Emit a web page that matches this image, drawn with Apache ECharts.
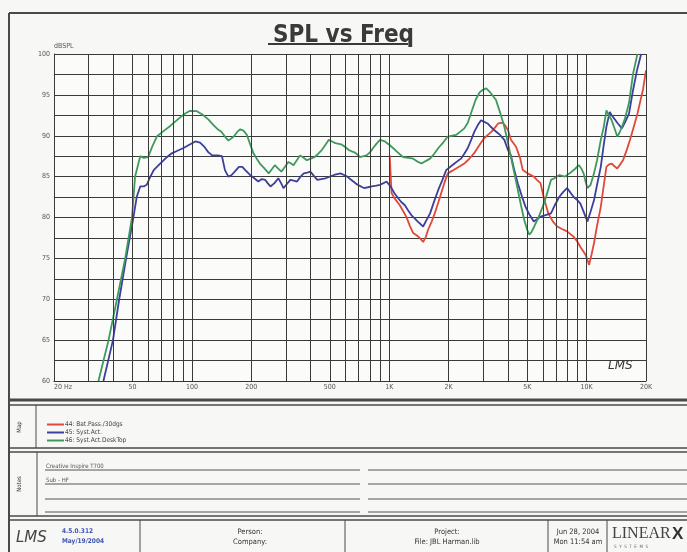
<!DOCTYPE html>
<html><head><meta charset="utf-8">
<script src="https://cdn.jsdelivr.net/npm/echarts@6/dist/echarts.min.js"></script>
<style>html,body{margin:0;padding:0;background:#f7f7f5;}#c{width:687px;height:552px;}</style>
</head><body><div id="c"></div>
<script>
// ---------- data ----------
const seriesNames = ['44: Bat.Pass./30dgs', '45: Syst.Act.', '46: Syst.Act.DeskTop'];
const seriesColors = ['#e0483a', '#3d3f9c', '#3e9a5c'];

const redFreq = [1005,1027,1060,1131,1220,1270,1322,1380,1427,1485,1530,1573,1640,1700,1770,1834,1900,1980,2080,2180,2290,2400,2500,2590,2700,2800,2910,3025,3160,3300,3430,3565,3770,3880,3995,4135,4390,4600,4750,4830,5100,5400,5600,5840,6100,6400,6750,7100,7500,7960,8250,8600,9000,9300,9600,9900,10100,10300,10600,10900,11300,11800,12200,12600,13000,13400,13800,14300,14800,15300,16000,16600,17300,18100,18700,19300,20000];
const redDb   = [87.6,83.0,82.4,81.5,80.1,79.0,78.1,77.8,77.5,77.0,77.6,78.5,79.5,80.5,81.8,83.0,84.2,85.4,85.7,86.0,86.3,86.6,87.0,87.4,87.9,88.5,89.1,89.7,90.1,90.5,91.0,91.5,91.6,91.2,90.7,89.5,88.65,87.3,85.8,85.6,85.3,85.0,84.6,84.2,82.2,80.5,79.5,78.9,78.6,78.3,78.0,77.65,77.0,76.4,75.9,75.4,74.8,74.2,75.5,76.85,79.0,81.3,83.8,86.2,86.5,86.6,86.3,86.0,86.5,87.0,88.3,89.5,91.0,92.7,94.2,95.6,98.0];

const blueFreq = [35.6,39.8,42.8,46.4,50.5,52.5,54.7,57,59,61,64,69,74,79,85,90.6,97,104,110,116,121,126.5,135,142,147,153,159,166,173,180,188,197,207,217,226,235,242,250,262,274,283,291,303,315,328,341,355,369,384,399,415,432,452,475,500,525,545,566,590,612,650,690,718,745,780,816,860,898,935,968,1000,1027,1060,1110,1150,1200,1245,1293,1345,1395,1440,1485,1545,1610,1690,1773,1860,1943,2040,2140,2220,2310,2400,2500,2600,2700,2810,2920,3030,3150,3270,3400,3520,3640,3830,3995,4135,4300,4480,4700,4905,5150,5400,5600,5840,6200,6600,6900,7260,7600,7960,8250,8600,9000,9300,9700,10100,10500,10900,11300,11800,12200,12600,13100,13400,13800,14400,15100,15700,16400,17200,18000,18900];
const blueDb   = [60,65,70,75,80,82.5,83.8,83.8,84.0,84.8,85.8,86.6,87.3,87.85,88.2,88.5,88.9,89.3,89.15,88.6,88.0,87.6,87.6,87.5,85.8,85.0,85.2,85.7,86.2,86.2,85.7,85.2,84.8,84.4,84.7,84.6,84.2,83.8,84.2,84.8,84.2,83.6,84.1,84.6,84.5,84.4,85.0,85.4,85.5,85.6,85.1,84.6,84.7,84.8,85.0,85.2,85.3,85.4,85.2,85.0,84.5,84.0,83.8,83.6,83.7,83.8,83.9,84.0,84.2,84.4,84.0,83.6,83.0,82.35,81.9,81.5,80.9,80.3,79.9,79.5,79.2,78.9,79.7,80.5,82.0,83.4,84.6,85.8,86.2,86.6,86.9,87.2,87.8,88.5,89.5,90.5,91.3,91.9,91.7,91.5,91.1,90.7,90.4,90.1,89.5,88.25,87.6,85.8,84.2,82.6,81.3,80.3,79.5,79.8,80.1,80.3,80.5,81.5,82.5,83.1,83.6,83.1,82.5,82.1,81.7,80.6,79.5,80.8,82.1,84.0,86.2,88.8,91.1,92.9,92.5,92.1,91.5,90.9,91.7,92.7,95.6,98.0,100];

const greenFreq = [33.6,37.8,41.7,45.9,49.7,51.5,54.7,57,60,63,66.4,72,77.6,82,87.2,92,97.7,106,114.5,121,128.6,135,141,147,153,163,170,176,183,190,197,205,213,221,233,245,254,263,273,284,296,308,318,327,340,353,368,382,400,419,437,455,475,494,513,533,555,576,600,624,645,662,690,711,740,767,800,828,860,898,950,1000,1045,1100,1173,1250,1322,1400,1457,1530,1610,1690,1773,1880,1980,2080,2180,2290,2400,2500,2590,2740,2870,2970,3100,3250,3470,3650,3830,3980,4135,4340,4480,4650,4830,5000,5125,5250,5430,5700,5990,6230,6600,6870,7280,7760,8200,8700,9140,9400,9660,9900,10100,10480,10900,11300,11800,12200,12600,12900,13400,13900,14300,14700,15100,15600,16400,17200,18100];
const greenDb   = [60,65,70,75,80,85,87.5,87.3,87.4,88.7,89.9,90.6,91.2,91.7,92.25,92.7,93.05,93.0,92.5,92.0,91.3,90.8,90.5,89.9,89.4,89.9,90.5,90.8,90.6,90.1,89.0,87.85,87.2,86.6,86.0,85.4,85.9,86.4,86.0,85.6,86.2,86.8,86.6,86.4,87.0,87.6,87.3,87.0,87.2,87.4,87.8,88.25,88.9,89.5,89.3,89.1,89.0,88.9,88.6,88.25,88.1,88.0,87.7,87.4,87.5,87.6,88.0,88.5,89.0,89.5,89.3,88.9,88.5,88.0,87.4,87.3,87.2,86.8,86.6,86.9,87.2,87.8,88.5,89.2,89.9,90.0,90.1,90.5,90.9,91.6,92.7,94.4,95.3,95.6,95.8,95.3,94.4,92.8,91.1,89.3,87.4,85.0,83.4,81.5,79.7,78.5,77.9,78.2,78.9,80.0,81.3,82.5,84.6,84.8,85.2,85.0,85.4,85.9,86.4,86.0,85.4,84.3,83.6,84.0,85.4,87.0,89.5,91.0,93.1,92.6,91.9,90.8,89.9,90.4,91.1,92.0,94.0,97.6,100];

const gridFreqs = [20,30,40,50,60,70,80,90,100,200,300,400,500,600,700,800,900,1000,2000,3000,4000,5000,6000,7000,8000,9000,10000,20000];
const tickFreqs = [20,50,100,200,500,1000,2000,5000,10000,20000];
const tickLabels = ['20 Hz','50','100','200','500','1K','2K','5K','10K','20K'];

// ---------- chart ----------
const zip = (f, d) => f.map((v, i) => [v, d[i]]);
const seriesData = [zip(redFreq, redDb), zip(blueFreq, blueDb), zip(greenFreq, greenDb)];

const smallFont = "'Liberation Sans Narrow','DejaVu Sans Condensed',sans-serif";

const gridLineData = gridFreqs.map(f => {
  const k = tickFreqs.indexOf(f);
  const item = { xAxis: f };
  if (k >= 0) {
    item.label = { show: true, position: 'start', formatter: tickLabels[k], distance: 3,
      fontSize: 7, color: '#555', fontFamily: smallFont,
      align: k === 0 ? 'left' : 'center' };
  }
  return item;
});

const chart = echarts.init(document.getElementById('c'), null, { renderer: 'canvas' });

const lineSeries = seriesNames.map((n, i) => ({
  name: n, type: 'line', data: seriesData[i], showSymbol: false, symbol: 'none',
  lineStyle: { color: seriesColors[i], width: 1.8 }, itemStyle: { color: seriesColors[i] },
  z: 3, animation: false, clip: true
}));

const g = [];
const L = (x1, y1, x2, y2, w, c) => g.push({ type: 'line', silent: true, shape: { x1, y1, x2, y2 }, style: { stroke: c || '#4a4a4a', lineWidth: w || 1 } });
const T = (x, y, text, o) => g.push(Object.assign({ type: 'text', silent: true, x, y,
  style: Object.assign({ text, fontSize: 7, fill: '#333', fontFamily: smallFont, align: 'left', verticalAlign: 'middle' }, (o && o.style) || {}) },
  o && o.rotation !== undefined ? { rotation: o.rotation } : {}));

// frame
L(9, 13, 687, 13, 2);
L(9, 13, 9, 552, 2);
L(9, 400, 687, 400, 3);
// title underline
L(268, 44, 408, 44, 2, '#3a3a3a');
// map box
L(9, 405, 687, 405, 1.5); L(9, 448, 687, 448, 1.5); L(36, 405, 36, 448, 1);
T(19, 427, 'Map', { rotation: Math.PI / 2, style: { align: 'center', fontSize: 6 } });
// notes box
L(9, 452, 687, 452, 1.5); L(9, 516, 687, 516, 1.5); L(37, 452, 37, 516, 1);
T(19, 484, 'Notes', { rotation: Math.PI / 2, style: { align: 'center', fontSize: 6 } });
[470, 484, 499, 512].forEach(y => { L(45, y, 360, y, 1, '#555'); L(368, y, 687, y, 1, '#555'); });
T(46, 466, 'Creative Inspire T700', { style: { fontSize: 6, fill: '#555' } });
T(46, 480, 'Sub - HF', { style: { fontSize: 6, fill: '#555' } });
// footer
L(9, 520, 687, 520, 1.5); L(140, 520, 140, 552, 1); L(345, 520, 345, 552, 1); L(548, 520, 548, 552, 1); L(607, 520, 607, 552, 1);
T(16, 538, 'LMS', { style: { fontSize: 15, fontStyle: 'italic', fill: '#444', fontFamily: "'DejaVu Sans', sans-serif" } });
T(62, 531, '4.5.0.312', { style: { fontSize: 6.5, fill: '#3f55b0', fontWeight: 'bold' } });
T(62, 541, 'May/19/2004', { style: { fontSize: 6.5, fill: '#3f55b0', fontWeight: 'bold' } });
T(250, 532, 'Person:', { style: { align: 'center', fontSize: 7.5 } });
T(250, 542, 'Company:', { style: { align: 'center', fontSize: 7.5 } });
T(447, 532, 'Project:', { style: { align: 'center', fontSize: 7.5 } });
T(447, 542, 'File: JBL Harman.lib', { style: { align: 'center', fontSize: 7.5 } });
T(578, 532, 'Jun 28, 2004', { style: { align: 'center', fontSize: 7.5 } });
T(578, 542, 'Mon 11:54 am', { style: { align: 'center', fontSize: 7.5 } });
T(612, 534, 'LINEAR', { style: { fontSize: 16, fill: '#444', fontFamily: "'Liberation Serif', serif" } });
T(672, 534, 'X', { style: { fontSize: 17, fill: '#333', fontWeight: 'bold', fontFamily: "'Liberation Sans', sans-serif" } });
T(614, 547, 'S  Y  S  T  E  M  S', { style: { fontSize: 4.5, fill: '#666' } });
// LMS mark inside plot
T(608, 366, 'LMS', { style: { fontSize: 12, fontStyle: 'italic', fill: '#333', fontFamily: "'DejaVu Sans', sans-serif" } });

chart.setOption({
  animation: false,
  backgroundColor: '#f7f7f5',
  title: { text: 'SPL vs Freq', left: 'center', top: 19,
    textStyle: { fontSize: 24, fontWeight: 'bold', color: '#3a3a3a', fontFamily: smallFont } },
  grid: { left: 54, top: 54, width: 592, height: 327, show: true, backgroundColor: '#fbfbf9', borderWidth: 0 },
  legend: {
    data: seriesNames, orient: 'vertical', left: 42, top: 416, itemGap: 1,
    itemWidth: 17, itemHeight: 2, icon: 'rect',
    textStyle: { fontSize: 6.5, color: '#444', fontFamily: smallFont, padding: [0, 0, 0, -4] },
    selectedMode: false
  },
  xAxis: {
    type: 'log', logBase: 10, min: 20, max: 20000,
    axisLine: { show: true, lineStyle: { color: '#333', width: 1 } },
    axisTick: { show: false }, axisLabel: { show: false }, splitLine: { show: false }
  },
  yAxis: {
    type: 'value', min: 60, max: 100, interval: 2.5,
    name: 'dBSPL', nameLocation: 'end', nameGap: 4,
    nameTextStyle: { fontSize: 7, color: '#555', align: 'left', fontFamily: smallFont },
    axisLine: { show: true, lineStyle: { color: '#333', width: 1 } },
    axisTick: { show: false },
    axisLabel: { fontSize: 7, color: '#555', margin: 4, fontFamily: smallFont,
      formatter: v => (v % 5 === 0 ? String(v) : '') },
    splitLine: { show: true, lineStyle: { color: '#3a3a3a', width: 1 } }
  },
  graphic: g,
  series: [
    { name: '_grid', type: 'line', data: [], silent: true, z: 2,
      markLine: { silent: true, symbol: ['none', 'none'], animation: false,
        lineStyle: { color: '#3a3a3a', width: 1, type: 'solid' },
        label: { show: false }, emphasis: { disabled: true },
        data: gridLineData } }
  ].concat(lineSeries)
});
</script></body></html>
